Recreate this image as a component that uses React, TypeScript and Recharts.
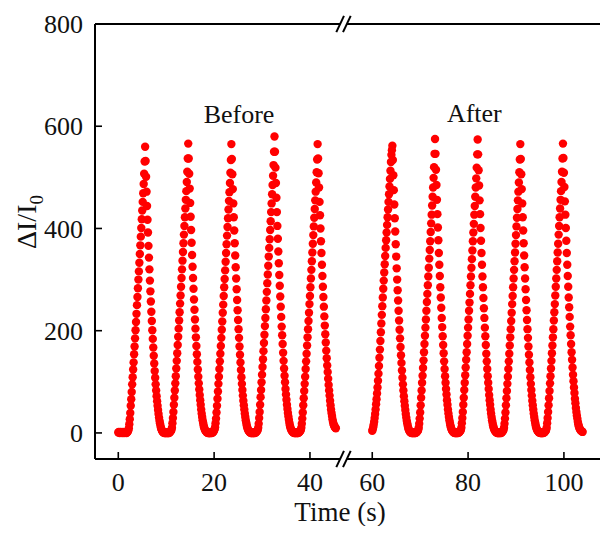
import React from "react";
import {
  ScatterChart,
  Scatter,
  XAxis,
  YAxis,
  ReferenceLine,
  ReferenceDot,
} from "recharts";

// sampling of the recorded current, seconds
const STEP = 0.1;
const BEFORE_START = 0;
const AFTER_START = 60;
// the time axis is broken: 47..54 s is cut out
const GAP = 7;
const BREAK_AT = 47;

const X_TICKS = [0, 20, 40, 60, 80, 100];
const Y_TICKS = [0, 200, 400, 600, 800];

// ΔI/I0 before, one sample every 0.1 s from t = 0
const BEFORE_VALUES = [
  1, 2, 1, 0, 1, 2, 1, 1, 0, 1, 2, 1, 0, 1, 1, 2, 1, 0, 1, 2, 3, 5,
  9, 17, 27, 39, 53, 66, 80, 95, 109, 124, 138, 154, 169, 185, 201, 217, 233, 250, 266, 283, 300, 316, 333, 350, 367, 384, 401, 418, 435, 452, 469, 487, 507, 531,
  560,
  532, 501, 472, 444, 417, 392, 366, 343, 320, 298, 277, 257, 237, 219, 201, 184, 167, 151, 136, 121, 108, 95, 83, 72, 62, 53, 45, 37, 30, 24, 19, 14, 10, 7, 5, 3, 2, 1, 1, 0,
  1, 0, 0, 1, 0, 1, 0, 0, 1, 0, 1, 2, 3, 4, 6,
  10, 19, 29, 41, 55, 69, 83, 97, 111, 126, 141, 156, 172, 188, 204, 220, 236, 253, 269, 286, 303, 320, 337, 354, 371, 388, 405, 422, 439, 456, 473, 491, 511, 537,
  566,
  537, 507, 478, 450, 423, 397, 372, 348, 325, 303, 282, 261, 241, 222, 204, 187, 170, 154, 139, 124, 110, 97, 85, 74, 64, 55, 46, 38, 31, 25, 20, 15, 11, 8, 6, 4, 3, 2, 1, 1,
  0, 1, 0, 0, 0, 1, 0, 1, 0, 1, 1, 2, 3, 5, 7,
  11, 19, 28, 40, 53, 67, 81, 96, 110, 125, 140, 155, 170, 186, 202, 218, 235, 251, 268, 285, 301, 318, 335, 352, 369, 386, 403, 420, 437, 454, 471, 489, 509, 534,
  565,
  536, 506, 477, 449, 422, 396, 371, 347, 324, 302, 281, 260, 240, 221, 203, 186, 169, 153, 138, 123, 109, 96, 84, 73, 63, 54, 46, 38, 31, 25, 20, 15, 11, 8, 6, 4, 3, 2, 1, 1,
  0, 0, 1, 0, 1, 0, 0, 1, 0, 1, 1, 2, 3, 4, 6,
  10, 18, 29, 41, 55, 70, 84, 99, 114, 129, 144, 160, 176, 192, 209, 225, 242, 259, 276, 293, 310, 327, 345, 362, 379, 397, 414, 432, 449, 467, 485, 503, 524, 550,
  580,
  550, 519, 489, 460, 432, 405, 380, 355, 332, 309, 288, 267, 247, 227, 208, 191, 174, 157, 141, 126, 112, 99, 86, 75, 65, 55, 47, 39, 32, 26, 20, 15, 11, 8, 6, 4, 3, 2, 1, 1,
  0, 1, 0, 0, 1, 0, 1, 0, 0, 1, 1, 2, 3, 4, 6,
  10, 18, 28, 40, 54, 68, 82, 96, 110, 125, 140, 155, 171, 187, 203, 219, 235, 252, 268, 285, 302, 319, 336, 353, 370, 387, 404, 421, 438, 455, 472, 490, 510, 535,
  565,
  537, 508, 480, 452, 426, 400, 375, 352, 329, 307, 286, 266, 247, 228, 210, 193, 177, 161, 146, 132, 119, 106, 94, 83, 73, 63, 54, 46, 39, 33, 27, 22, 18, 15, 13, 11, 10, 9,
];

// ΔI/I0 after, one sample every 0.1 s from t = 60
const AFTER_VALUES = [
  4, 7, 11, 16, 22, 29, 37, 46, 56, 66, 77, 89, 102, 116, 131, 147, 163, 180, 197, 214,
  231, 248, 265, 282, 298, 314, 330, 346, 362, 377, 392, 407, 422, 437, 452, 467, 482, 497, 513, 530, 544, 553,
  562,
  534, 504, 475, 447, 420, 394, 369, 345, 322, 300, 279, 259, 239, 220, 202, 185, 168, 152, 137, 122, 108, 95, 83, 72, 62, 53, 45, 37, 30, 24, 19, 14, 10, 7, 5, 3, 2, 1, 1, 0,
  1, 0, 0, 1, 0, 1, 0, 0, 1, 1, 2, 3, 4, 6,
  10, 18, 28, 40, 54, 69, 83, 98, 112, 127, 142, 158, 174, 190, 206, 222, 239, 256, 272, 289, 306, 323, 341, 358, 375, 393, 410, 427, 445, 462, 480, 499, 520, 546,
  575,
  546, 515, 485, 456, 428, 402, 377, 352, 329, 307, 285, 265, 245, 225, 207, 189, 172, 156, 140, 125, 111, 98, 86, 75, 64, 55, 46, 38, 31, 25, 20, 15, 11, 8, 6, 4, 3, 2, 1, 1,
  0, 1, 0, 0, 1, 0, 1, 0, 1, 1, 2, 3, 4, 6,
  10, 19, 29, 41, 55, 69, 84, 98, 113, 128, 143, 158, 174, 190, 206, 222, 239, 255, 272, 289, 306, 323, 340, 357, 375, 392, 409, 427, 444, 462, 480, 498, 519, 545,
  574,
  545, 514, 484, 455, 428, 401, 376, 352, 329, 306, 285, 264, 244, 225, 206, 189, 172, 155, 140, 125, 111, 98, 86, 74, 64, 55, 46, 38, 31, 25, 20, 15, 11, 8, 6, 4, 3, 2, 1, 1,
  0, 0, 1, 0, 0, 1, 0, 1, 0, 1, 2, 3, 4, 6,
  10, 18, 28, 40, 54, 68, 82, 96, 110, 125, 140, 155, 171, 187, 203, 219, 235, 252, 268, 285, 302, 319, 336, 353, 370, 387, 404, 421, 438, 455, 472, 490, 510, 535,
  565,
  536, 506, 477, 449, 422, 396, 371, 347, 324, 302, 281, 260, 240, 221, 203, 186, 169, 153, 138, 123, 109, 96, 84, 73, 63, 54, 46, 38, 31, 25, 20, 15, 11, 8, 6, 4, 3, 2, 1, 1,
  1, 0, 0, 1, 0, 0, 1, 0, 1, 1, 2, 3, 4, 6,
  10, 19, 29, 41, 54, 68, 82, 97, 111, 126, 141, 156, 171, 187, 203, 220, 236, 252, 269, 286, 302, 319, 336, 353, 370, 388, 405, 422, 439, 456, 473, 491, 511, 537,
  566,
  538, 509, 481, 453, 427, 401, 376, 352, 329, 307, 286, 265, 246, 227, 208, 191, 174, 158, 143, 128, 114, 101, 89, 78, 67, 58, 49, 41, 34, 28, 22, 17, 13, 10, 8, 6, 5, 4, 3, 3, 2,
];

const X_MIN = -4.86;
const X_MAX = 102.2;
const Y_MIN = -51;
const Y_MAX = 800;

const FONT = '"Liberation Serif", "Times New Roman", serif';
const RED = "#ff0000";
const INK = "#111";

// time -> position on the broken axis
const toPlot = (t: number) => (t > BREAK_AT ? t - GAP : t);

const beforeData = BEFORE_VALUES.map((v, i) => ({
  x: toPlot(+(BEFORE_START + i * STEP).toFixed(2)),
  y: v,
}));
const afterData = AFTER_VALUES.map((v, i) => ({
  x: toPlot(+(AFTER_START + i * STEP).toFixed(2)),
  y: v,
}));

const RedDot = (props: any) => (
  <circle cx={props.cx} cy={props.cy} r={4.2} fill={RED} />
);

// break marks "//" on the top and bottom frame lines
const SLASH_X = [BREAK_AT - 0.7, BREAK_AT + 0.7];
const SLASH_DX = 0.8;
const SLASH_DY = 16;

export default function App() {
  return (
    <div style={{ margin: -8, width: 608, height: 534, overflow: "hidden", background: "#fff" }}>
      <ScatterChart
        width={608}
        height={534}
        margin={{ top: 24, right: 0, bottom: 0, left: 0 }}
        style={{ fontFamily: FONT }}
      >
        <XAxis
          type="number"
          dataKey="x"
          domain={[X_MIN, X_MAX]}
          ticks={X_TICKS.map(toPlot)}
          tickFormatter={(v: number) => String(Math.round(v > BREAK_AT ? v + GAP : v))}
          interval={0}
          allowDataOverflow
          height={75}
          axisLine={false}
          tickSize={-7}
          tickMargin={21}
          tickLine={{ stroke: "#000", strokeWidth: 1.6 }}
          tick={{ fontSize: 26, fill: INK, fontFamily: FONT }}
          label={{
            content: () => (
              <text x={340} y={521} textAnchor="middle" fontSize={27} fill={INK} fontFamily={FONT}>
                Time (s)
              </text>
            ),
          }}
        />
        <YAxis
          type="number"
          dataKey="y"
          domain={[Y_MIN, Y_MAX]}
          ticks={Y_TICKS}
          interval={0}
          allowDataOverflow
          width={95}
          axisLine={{ stroke: "#000", strokeWidth: 2 }}
          tickSize={-7}
          tickMargin={19}
          tickLine={{ stroke: "#000", strokeWidth: 1.6 }}
          tick={{ fontSize: 26, fill: INK, fontFamily: FONT }}
          label={{
            content: () => (
              <text
                transform="rotate(-90)"
                x={-222}
                y={36}
                textAnchor="middle"
                fontSize={28}
                fill={INK}
                fontFamily={FONT}
              >
                ΔI/I
                <tspan dy={7} fontSize={19}>0</tspan>
              </text>
            ),
          }}
        />

        {/* frame lines with the axis break */}
        {[Y_MIN, Y_MAX].map((y) => (
          <ReferenceLine
            key={`l${y}`}
            segment={[{ x: X_MIN, y }, { x: SLASH_X[0], y }]}
            stroke="#000"
            strokeWidth={2}
            ifOverflow="visible"
          />
        ))}
        {[Y_MIN, Y_MAX].map((y) => (
          <ReferenceLine
            key={`r${y}`}
            segment={[{ x: SLASH_X[1], y }, { x: X_MAX, y }]}
            stroke="#000"
            strokeWidth={2}
            ifOverflow="visible"
          />
        ))}
        {[Y_MIN, Y_MAX].flatMap((y) =>
          SLASH_X.map((sx) => (
            <ReferenceLine
              key={`s${y}-${sx}`}
              segment={[
                { x: sx - SLASH_DX, y: y - SLASH_DY },
                { x: sx + SLASH_DX, y: y + SLASH_DY },
              ]}
              stroke="#000"
              strokeWidth={2}
              ifOverflow="visible"
            />
          ))
        )}

        <Scatter data={beforeData} fill={RED} shape={RedDot} isAnimationActive={false} />
        <Scatter data={afterData} fill={RED} shape={RedDot} isAnimationActive={false} />

        <ReferenceDot
          x={25.2}
          y={624}
          r={0}
          fill="none"
          stroke="none"
          ifOverflow="visible"
          label={{ value: "Before", position: "center", fontSize: 26, fill: INK, fontFamily: FONT }}
        />
        <ReferenceDot
          x={74.3}
          y={626}
          r={0}
          fill="none"
          stroke="none"
          ifOverflow="visible"
          label={{ value: "After", position: "center", fontSize: 26, fill: INK, fontFamily: FONT }}
        />
      </ScatterChart>
    </div>
  );
}
